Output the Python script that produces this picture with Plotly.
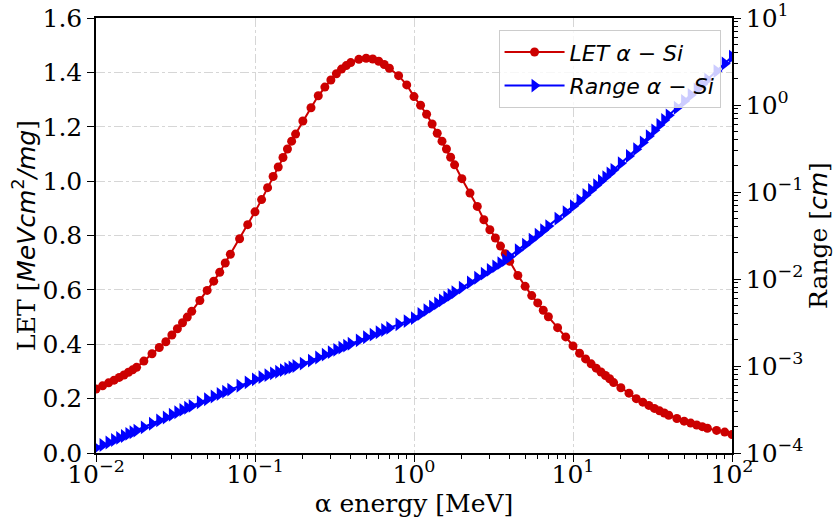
import plotly.graph_objects as go

# alpha energy [MeV]
energy = [
    0.010, 0.011, 0.012, 0.013, 0.014, 0.015, 0.016, 0.017, 0.018, 0.020,
    0.0225, 0.025, 0.0275, 0.030, 0.0325, 0.035, 0.0375, 0.040, 0.045, 0.050,
    0.055, 0.060, 0.065, 0.070, 0.080, 0.090, 0.100,
    0.110, 0.120, 0.130, 0.140, 0.150, 0.160, 0.170, 0.180, 0.200,
    0.225, 0.250, 0.275, 0.300, 0.325, 0.350, 0.375, 0.400, 0.450, 0.500,
    0.550, 0.600, 0.650, 0.700, 0.800, 0.900, 1.000,
    1.1, 1.2, 1.3, 1.4, 1.5, 1.6, 1.7, 1.8, 2.0,
    2.25, 2.5, 2.75, 3.0, 3.25, 3.5, 3.75, 4.0, 4.5, 5.0,
    5.5, 6.0, 6.5, 7.0, 8.0, 9.0, 10.0,
    11, 12, 13, 14, 15, 16, 17, 18, 20,
    22.5, 25, 27.5, 30, 32.5, 35, 37.5, 40, 45, 50,
    55, 60, 65, 70, 80, 90, 100,
]

# LET [MeV cm^2 / mg]
let_vals = [
    0.235, 0.247, 0.258, 0.268, 0.278, 0.287, 0.297, 0.306, 0.315, 0.338,
    0.365, 0.388, 0.409, 0.434, 0.457, 0.479, 0.500, 0.521, 0.561, 0.598,
    0.632, 0.665, 0.699, 0.731, 0.788, 0.840, 0.887,
    0.932, 0.976, 1.017, 1.052, 1.087, 1.118, 1.147, 1.173, 1.221,
    1.270, 1.314, 1.346, 1.372, 1.395, 1.412, 1.425, 1.436, 1.448, 1.452,
    1.449, 1.441, 1.429, 1.415, 1.388, 1.354, 1.311,
    1.279, 1.246, 1.210, 1.176, 1.147, 1.118, 1.088, 1.060, 1.009,
    0.956, 0.907, 0.858, 0.821, 0.791, 0.761, 0.733, 0.705, 0.653, 0.613,
    0.579, 0.552, 0.525, 0.501, 0.461, 0.427, 0.394,
    0.367, 0.346, 0.328, 0.312, 0.298, 0.285, 0.273, 0.259, 0.240,
    0.220, 0.200, 0.187, 0.175, 0.164, 0.155, 0.147, 0.139, 0.127, 0.117,
    0.110, 0.103, 0.097, 0.091, 0.083, 0.077, 0.068,
]

# Range [cm]
range_vals = [
    1.148e-4, 1.236e-4, 1.32e-4, 1.41e-4, 1.49e-4, 1.57e-4, 1.66e-4, 1.73e-4, 1.81e-4, 1.97e-4,
    2.17e-4, 2.37e-4, 2.56e-4, 2.75e-4, 2.94e-4, 3.13e-4, 3.31e-4, 3.48e-4, 3.83e-4, 4.15e-4,
    4.46e-4, 4.76e-4, 5.07e-4, 5.36e-4, 5.93e-4, 6.49e-4, 7.03e-4,
    7.44e-4, 7.84e-4, 8.23e-4, 8.60e-4, 8.97e-4, 9.31e-4, 9.66e-4, 1.0e-3, 1.065e-3,
    1.154e-3, 1.253e-3, 1.349e-3, 1.442e-3, 1.535e-3, 1.625e-3, 1.714e-3, 1.803e-3, 1.972e-3, 2.138e-3,
    2.29e-3, 2.44e-3, 2.59e-3, 2.74e-3, 3.01e-3, 3.28e-3, 3.55e-3,
    3.96e-3, 4.39e-3, 4.82e-3, 5.25e-3, 5.69e-3, 6.14e-3, 6.58e-3, 7.05e-3, 7.96e-3,
    9.14e-3, 1.033e-2, 1.151e-2, 1.274e-2, 1.397e-2, 1.521e-2, 1.648e-2, 1.807e-2, 2.14e-2, 2.48e-2,
    2.84e-2, 3.23e-2, 3.63e-2, 4.06e-2, 4.94e-2, 5.87e-2, 6.87e-2,
    7.99e-2, 9.24e-2, 0.1057, 0.1194, 0.1337, 0.1483, 0.1637, 0.1799, 0.2143,
    0.2594, 0.3105, 0.3715, 0.4395, 0.5117, 0.590, 0.673, 0.760, 0.929, 1.112,
    1.303, 1.510, 1.730, 1.959, 2.455, 2.999, 3.597,
]

x_tickvals = [0.01, 0.1, 1, 10, 100]
x_ticktext = ["10<sup>−2</sup>", "10<sup>−1</sup>", "10<sup>0</sup>", "10<sup>1</sup>", "10<sup>2</sup>"]
y2_tickvals = [1e-4, 1e-3, 1e-2, 1e-1, 1, 10]
y2_ticktext = ["10<sup>−4</sup>", "10<sup>−3</sup>", "10<sup>−2</sup>", "10<sup>−1</sup>", "10<sup>0</sup>", "10<sup>1</sup>"]

minor_x = [m * 10 ** d for d in range(-2, 2) for m in range(2, 10)]
minor_y2 = [m * 10 ** d for d in range(-4, 1) for m in range(2, 10)]

RED = "#cc0000"
BLUE = "#0000ff"
SERIF = "DejaVu Serif"
SANS = "DejaVu Sans"
FS = 25

fig = go.Figure()
fig.add_trace(go.Scatter(
    x=energy, y=let_vals, mode="lines+markers", name="<i>LET α − Si</i>",
    line=dict(color=RED, width=2), marker=dict(symbol="circle", size=9, color=RED),
    yaxis="y", legendgroup="a",
))
fig.add_trace(go.Scatter(
    x=energy, y=range_vals, mode="lines+markers", name="<i>Range α − Si</i>",
    line=dict(color=BLUE, width=2), marker=dict(symbol="triangle-right", size=12, color=BLUE),
    yaxis="y2", legendgroup="b",
))

axis_common = dict(showline=True, linecolor="black", linewidth=1.5, ticks="outside",
                   tickcolor="black", tickwidth=1.2, zeroline=False, automargin=False)

fig.update_layout(
    width=833, height=521,
    margin=dict(l=96, r=101, t=18, b=68),
    paper_bgcolor="white", plot_bgcolor="white",
    font=dict(family=SERIF, size=FS, color="black"),
    showlegend=True,
    legend=dict(x=0.982, y=0.972, xanchor="right", yanchor="top",
                bgcolor="rgba(255,255,255,0.8)", bordercolor="#cccccc", borderwidth=1,
                font=dict(family=SANS, size=22, color="black"),
                traceorder="grouped", tracegroupgap=2, itemwidth=60),
    xaxis=dict(type="log", range=[-2, 2], tickvals=x_tickvals, ticktext=x_ticktext,
               ticklen=7, mirror=True, ticklabelstandoff=-9,
               showgrid=True, gridcolor="#d6d6d6", griddash="dashdot", gridwidth=1,
               minor=dict(tickvals=minor_x, ticks="outside", ticklen=4, tickcolor="black", showgrid=False),
               title=dict(text="α energy [MeV]", font=dict(family=SERIF, size=FS), standoff=0),
               **axis_common),
    yaxis=dict(range=[0, 1.6], dtick=0.2, tickformat=".1f", ticklen=7,
               showgrid=True, gridcolor="#d6d6d6", griddash="dashdot", gridwidth=1,
               title=dict(text='LET [<span style="font-family:DejaVu Sans"><i>MeVcm</i><sup>2</sup><i>/mg</i></span>]',
                          font=dict(family=SERIF, size=FS), standoff=0),
               **axis_common),
    yaxis2=dict(type="log", range=[-4, 1], overlaying="y", side="right",
                tickvals=y2_tickvals, ticktext=y2_ticktext, ticklen=7, showgrid=False,
                minor=dict(tickvals=minor_y2, ticks="outside", ticklen=4, tickcolor="black", showgrid=False),
                title=dict(text='Range [<span style="font-family:DejaVu Sans"><i>cm</i></span>]',
                           font=dict(family=SERIF, size=FS), standoff=8),
                **axis_common),
)

fig.write_html("out.html")
